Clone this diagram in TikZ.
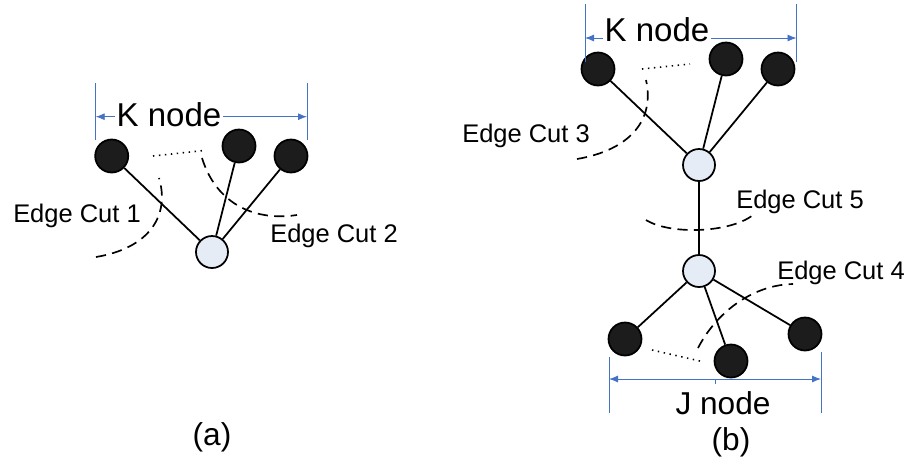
\documentclass[tikz,border=0pt]{standalone}
\usepackage{fontspec}
\setmainfont{Liberation Sans}
\usepackage{xcolor}
\usetikzlibrary{arrows.meta}
\definecolor{dimblue}{HTML}{4472C4}
\definecolor{hubfill}{HTML}{E6ECF6}
\definecolor{leaffill}{HTML}{1C1C1C}
\tikzset{
  leafnode/.style={circle,draw=black,fill=leaffill,line width=1pt,minimum size=0.66cm,inner sep=0pt},
  hubnode/.style={circle,draw=black,fill=hubfill,line width=1pt,minimum size=0.64cm,inner sep=0pt},
  graphedge/.style={line width=1pt},
  cutline/.style={line width=0.95pt,dash pattern=on 5.8pt off 3.6pt},
  skipline/.style={line width=0.9pt,dash pattern=on 0.8pt off 2.6pt},
  spanarrow/.style={{Latex[length=1.8mm,width=1.4mm]}-{Latex[length=1.8mm,width=1.4mm]},draw=dimblue,line width=0.5pt},
  spanbar/.style={draw=dimblue,line width=0.5pt},
  spanlabel/.style={font=\fontsize{18.8}{21}\selectfont,fill=white,inner sep=1pt},
  cutlabel/.style={font=\fontsize{14.5}{17}\selectfont,inner sep=1pt},
  panellabel/.style={font=\fontsize{18}{20}\selectfont}
}

\begin{document}
\begin{tikzpicture}
  \useasboundingbox (0,0) rectangle (18.22,-9.34);

  % (a) one hub with K leaves
  \node[leafnode] (ka1) at (2.234,-3.12) {};
  \node[leafnode] (ka2) at (4.78,-2.92) {};
  \node[leafnode] (ka3) at (5.82,-3.12) {};
  \node[hubnode] (ha) at (4.24,-5.04) {};
  \foreach \leaf in {ka1,ka2,ka3}
    \draw[graphedge] (\leaf) -- (ha);
  \draw[skipline] (3.06,-3.12) -- (4.04,-3.014);

  \coordinate (kaL) at (1.914,-2.334);
  \coordinate (kaR) at (6.14,-2.334);
  \draw[spanbar] (1.914,-1.66) -- (1.914,-2.80);
  \draw[spanbar] (6.14,-1.66) -- (6.14,-2.80);
  \draw[spanarrow] (kaL) -- (kaR);
  \node[spanlabel] (kalabel) at (3.38,-2.30) {K node};

  \draw[cutline] (1.92,-5.14) .. controls (3.0,-4.96) and (3.4,-4.30) .. (3.18,-3.56);
  \draw[cutline] (4.04,-3.16) .. controls (4.3,-4.0) and (5.0,-4.44) .. (5.94,-4.30);
  \node[cutlabel] (cut1) at (1.54,-4.32) {Edge Cut 1};
  \node[cutlabel] (cut2) at (6.68,-4.72) {Edge Cut 2};
  \node[panellabel] (pa) at (4.24,-8.74) {(a)};

  % (b) two hubs, K leaves above and J leaves below
  \node[leafnode] (kb1) at (11.96,-1.38) {};
  \node[leafnode] (kb2) at (14.52,-1.18) {};
  \node[leafnode] (kb3) at (15.56,-1.38) {};
  \node[hubnode] (hb1) at (13.98,-3.30) {};
  \node[hubnode] (hb2) at (13.98,-5.42) {};
  \node[leafnode] (jb1) at (12.5,-6.78) {};
  \node[leafnode] (jb2) at (14.62,-7.22) {};
  \node[leafnode] (jb3) at (16.1,-6.68) {};
  \foreach \leaf in {kb1,kb2,kb3}
    \draw[graphedge] (\leaf) -- (hb1);
  \draw[graphedge] (hb1) -- (hb2);
  \foreach \leaf in {jb1,jb2,jb3}
    \draw[graphedge] (hb2) -- (\leaf);
  \draw[skipline] (12.84,-1.38) -- (13.8,-1.28);
  \draw[skipline] (13.04,-7.0) -- (14.0,-7.22);

  \coordinate (kbL) at (11.70,-0.76);
  \coordinate (kbR) at (15.93,-0.76);
  \draw[spanbar] (11.70,-0.08) -- (11.70,-1.24);
  \draw[spanbar] (15.93,-0.08) -- (15.93,-1.24);
  \draw[spanarrow] (kbL) -- (kbR);
  \node[spanlabel] (kblabel) at (13.14,-0.60) {K node};

  \coordinate (jbL) at (12.18,-7.58);
  \coordinate (jbR) at (16.42,-7.58);
  \draw[spanbar] (12.18,-7.14) -- (12.18,-8.26);
  \draw[spanbar] (16.42,-7.04) -- (16.42,-8.26);
  \draw[spanarrow] (jbL) -- (jbR);
  \draw[spanbar] (14.30,-7.58) -- (14.30,-7.68);
  \node[panellabel] (jblabel) at (14.46,-8.06) {J node};

  \draw[cutline] (11.54,-3.18) .. controls (12.6,-3.0) and (13.1,-2.4) .. (12.92,-1.60);
  \draw[cutline] (12.92,-4.40) .. controls (13.4,-4.70) and (14.6,-4.66) .. (15.06,-4.30);
  \draw[cutline] (13.96,-6.96) .. controls (14.3,-6.30) and (15.0,-5.70) .. (15.86,-5.68);
  \node[cutlabel] (cut3) at (10.52,-2.72) {Edge Cut 3};
  \node[cutlabel] (cut5) at (16.0,-4.04) {Edge Cut 5};
  \node[cutlabel] (cut4) at (16.82,-5.46) {Edge Cut 4};
  \node[panellabel] (pb) at (14.62,-8.84) {(b)};
\end{tikzpicture}
\end{document}
